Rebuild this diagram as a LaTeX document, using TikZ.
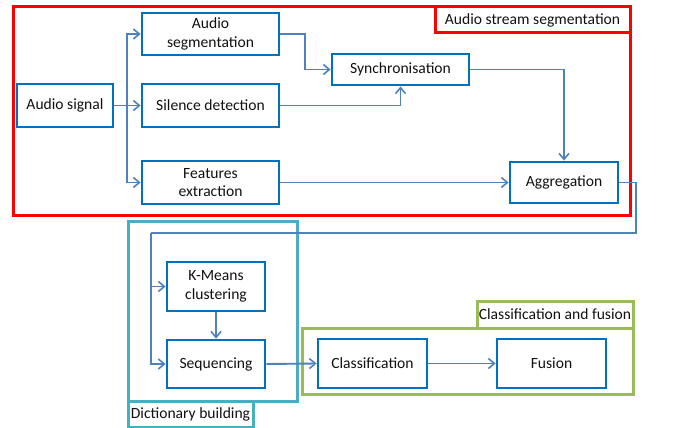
\documentclass[tikz,border=0pt]{standalone}
\usepackage{fontspec}
\setmainfont{Carlito}
\usetikzlibrary{arrows.meta}
\definecolor{boxblue}{HTML}{0070C0}
\definecolor{connblue}{HTML}{4F81BD}
\definecolor{grpred}{HTML}{FF0000}
\definecolor{grpcyan}{HTML}{4BACC6}
\definecolor{grpgreen}{HTML}{9BBB59}
\definecolor{txt}{HTML}{111111}
\tikzset{
  box/.style={draw=boxblue, line width=2.8pt, fill=white, align=center, inner sep=0pt, text=txt,
    font=\fontsize{15.6}{18.5}\selectfont},
  conn/.style={draw=connblue, line width=1.9pt, -{Straight Barb[length=6pt,width=10pt,line width=1.6pt]}},
  plain/.style={draw=connblue, line width=1.9pt},
  grp/.style={line width=3pt, fill=none},
  grplabel/.style={line width=3pt, fill=white, inner sep=0pt, text=txt,
    font=\fontsize{15.6}{18.5}\selectfont}
}
\begin{document}
\begin{tikzpicture}[x=1pt,y=-1pt]
\useasboundingbox (0,0) rectangle (694,428);
% group frames
\draw[grp, draw=grpred] (13,7) rectangle (630,215);
\draw[grp, draw=grpcyan] (128,221) rectangle (297,401);
\draw[grp, draw=grpgreen] (302,328) rectangle (633,394);
% nodes
\node[box, minimum width=96pt, minimum height=43pt] (sig) at (65,105.5) {Audio signal};
\node[box, minimum width=137pt, minimum height=42pt] (seg) at (210.5,34) {Audio\\segmentation};
\node[box, minimum width=137pt, minimum height=43pt] (sil) at (210.5,105.5) {Silence detection};
\node[box, minimum width=137pt, minimum height=43pt] (feat) at (210.5,182.5) {Features\\extraction};
\node[box, minimum width=137pt, minimum height=31pt] (sync) at (400.5,69.5) {Synchronisation};
\node[box, minimum width=108pt, minimum height=41pt] (agg) at (564,182.5) {Aggregation};
\node[box, minimum width=98pt, minimum height=49pt] (km) at (216,286.5) {K-Means\\clustering};
\node[box, minimum width=98pt, minimum height=48pt] (seq) at (216,364) {Sequencing};
\node[box, minimum width=109pt, minimum height=49pt] (cls) at (372.5,363.5) {Classification};
\node[box, minimum width=109pt, minimum height=49pt] (fus) at (551.5,363.5) {Fusion};
% group labels
\node[grplabel, draw=grpred, minimum width=195pt, minimum height=26pt] (lred) at (532.5,20) {Audio stream segmentation};
\node[grplabel, draw=grpcyan, minimum width=125pt, minimum height=26pt] (lcyan) at (190.5,414) {Dictionary building};
\node[grplabel, draw=grpgreen, minimum width=156pt, minimum height=27pt] (lgreen) at (555,314.5) {Classification and fusion};
% connector helper coordinates
\coordinate (br) at (127,105.5);
\coordinate (j1) at (305,0);
\coordinate (r1) at (636,233);
\coordinate (l1) at (151,233);
% connectors
\draw[plain] (sig.east) -- (br);
\draw[conn] (br) |- (seg.west);
\draw[conn] (br) -- (sil.west);
\draw[conn] (br) |- (feat.west);
\draw[conn] (seg.east) -- (seg.east -| j1) |- (sync.west);
\draw[conn] (sil.east) -| (sync.south);
\draw[conn] (sync.east) -| (agg.north);
\draw[conn] (feat.east) -- (agg.west);
\draw[plain] (agg.east) -| (r1) -- (l1);
\draw[conn] (l1) |- (seq.west);
\draw[conn] (l1) |- (km.west);
\draw[conn] (km.south) -- (seq.north);
\draw[conn] (seq.east) -- (cls.west);
\draw[conn] (cls.east) -- (fus.west);
\end{tikzpicture}
\end{document}
